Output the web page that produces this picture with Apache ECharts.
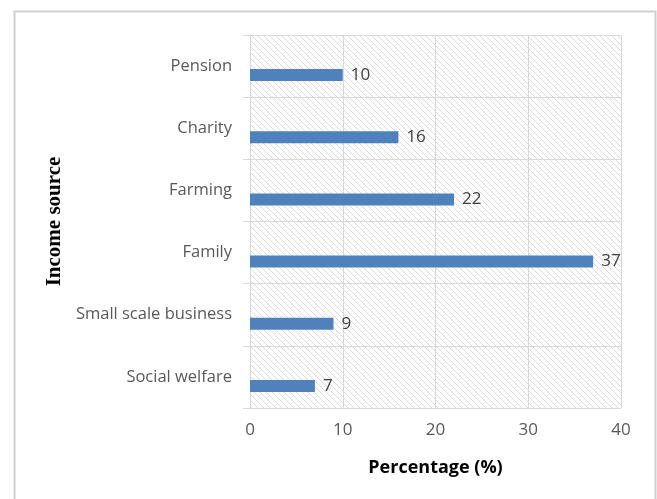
<!DOCTYPE html>
<html>
<head>
<meta charset="utf-8">
<script src="https://cdn.jsdelivr.net/npm/echarts@6/dist/echarts.min.js"></script>
<style>
  html, body { margin: 0; padding: 0; background: #fff; }
  #chart { width: 657px; height: 499px; }
</style>
</head>
<body>
<div id="chart"></div>
<script>
// bottom to top, as in the source sheet
const categories = ['Social welfare', 'Small scale business', 'Family', 'Farming', 'Charity', 'Pension'];
const percentages = [7, 9, 37, 22, 16, 10];
const xTicks = { min: 0, max: 40, interval: 10 };

// diagonal hatch for the plot area
function hatch() {
  const c = document.createElement('canvas');
  c.width = 6; c.height = 6;
  const g = c.getContext('2d');
  g.fillStyle = '#ffffff';
  g.fillRect(0, 0, 6, 6);
  g.strokeStyle = '#dadada';
  g.lineWidth = 1;
  g.beginPath();
  g.moveTo(-1, -1); g.lineTo(7, 7);
  g.moveTo(-4, 2); g.lineTo(4, 10);
  g.moveTo(2, -4); g.lineTo(10, 4);
  g.stroke();
  return c;
}

const LINE = '#d9d9d9';
const FONT = 'Open Sans';
const chart = echarts.init(document.getElementById('chart'), null, { renderer: 'canvas' });
chart.setOption({
  animation: false,
  grid: {
    left: 250, right: 36, top: 35, bottom: 91, show: true,
    backgroundColor: { image: hatch(), repeat: 'repeat' },
    borderWidth: 0,
  },
  graphic: [{
    type: 'rect', left: 12, top: 9, z: -10,
    shape: { width: 641, height: 500 },
    style: { fill: 'none', stroke: '#d0d0d0', lineWidth: 2 },
  }],
  xAxis: {
    type: 'value', ...xTicks,
    name: 'Percentage (%)', nameLocation: 'middle', nameGap: 51,
    nameTextStyle: { color: '#000', fontSize: 18, fontWeight: 'bold', fontFamily: FONT },
    axisLine: { show: false },
    axisTick: { show: false },
    axisLabel: { color: '#595959', fontSize: 17, fontFamily: FONT, margin: 14 },
    splitLine: { lineStyle: { color: LINE, width: 1 } },
  },
  yAxis: {
    type: 'category', data: categories,
    name: 'Income source', nameLocation: 'middle', nameGap: 185, nameRotate: 90,
    nameTextStyle: { color: '#000', fontSize: 21, fontWeight: 'bold', fontFamily: 'Liberation Serif' },
    axisLine: { show: true, lineStyle: { color: LINE } },
    axisTick: { show: true, length: 7, lineStyle: { color: LINE } },
    axisLabel: { color: '#595959', fontSize: 16.5, fontFamily: FONT, margin: 18 },
    splitLine: { show: true, lineStyle: { color: LINE, width: 1 } },
  },
  series: [
    // empty slot so the real bar sits low in its band, as in the original
    { type: 'bar', data: categories.map(() => null), barWidth: 12, barGap: '50%', silent: true },
    {
      type: 'bar', data: percentages, barWidth: 12, barGap: '50%',
      itemStyle: { color: '#4f81bd' },
      label: { show: true, position: 'right', distance: 8, color: '#404040', fontSize: 17, fontFamily: FONT },
    },
  ],
});
</script>
</body>
</html>
